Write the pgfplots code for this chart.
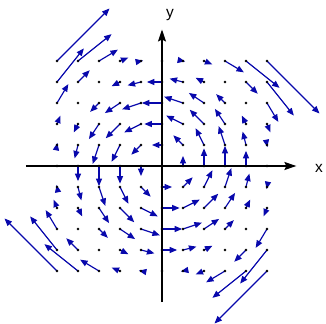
\documentclass[border=0pt]{standalone}
\usepackage{pgfplots}
\pgfplotsset{compat=1.18}
\usepackage{pgfplotstable}
\usetikzlibrary{arrows.meta}
\usepackage{fontspec}
\setmainfont{Liberation Sans}
\definecolor{fieldblue}{RGB}{8,8,172}

% vector field: grid point (x,y) and arrow (u,v)
\pgfplotstableread{
x y u v
-5 5 2.5 2.5
-4 5 1.6 1.28
-3 5 0.9 0.54
-2 5 0.4 0.16
-1 5 0.1 0.02
1 5 0.1 -0.02
2 5 0.4 -0.16
3 5 0.9 -0.54
4 5 1.6 -1.28
5 5 2.5 -2.5
-5 4 1.28 1.6
-4 4 0.56 0.56
-2 4 -0.4 -0.2
-1 4 -0.64 -0.16
0 4 -0.72 0
1 4 -0.64 0.16
2 4 -0.4 0.2
4 4 0.56 -0.56
5 4 1.28 -1.6
-5 3 0.54 0.9
-3 3 -0.42 -0.42
-2 3 -0.72 -0.48
-1 3 -0.9 -0.3
0 3 -0.96 0
1 3 -0.9 0.3
2 3 -0.72 0.48
3 3 -0.42 0.42
5 3 0.54 -0.9
-5 2 0.16 0.4
-4 2 -0.2 -0.4
-3 2 -0.48 -0.72
-2 2 -0.68 -0.68
-1 2 -0.8 -0.4
0 2 -0.84 0
1 2 -0.8 0.4
2 2 -0.68 0.68
3 2 -0.48 0.72
4 2 -0.2 0.4
5 2 0.16 -0.4
-5 1 0.02 0.1
-4 1 -0.16 -0.64
-3 1 -0.3 -0.9
-2 1 -0.4 -0.8
-1 1 -0.46 -0.46
0 1 -0.48 0
1 1 -0.46 0.46
2 1 -0.4 0.8
3 1 -0.3 0.9
4 1 -0.16 0.64
5 1 0.02 -0.1
-4 0 0 -0.72
-3 0 0 -0.96
-2 0 0 -0.84
-1 0 0 -0.48
1 0 0 0.48
2 0 0 0.84
3 0 0 0.96
4 0 0 0.72
-5 -1 -0.02 0.1
-4 -1 0.16 -0.64
-3 -1 0.3 -0.9
-2 -1 0.4 -0.8
-1 -1 0.46 -0.46
0 -1 0.48 0
1 -1 0.46 0.46
2 -1 0.4 0.8
3 -1 0.3 0.9
4 -1 0.16 0.64
5 -1 -0.02 -0.1
-5 -2 -0.16 0.4
-4 -2 0.2 -0.4
-3 -2 0.48 -0.72
-2 -2 0.68 -0.68
-1 -2 0.8 -0.4
0 -2 0.84 0
1 -2 0.8 0.4
2 -2 0.68 0.68
3 -2 0.48 0.72
4 -2 0.2 0.4
5 -2 -0.16 -0.4
-5 -3 -0.54 0.9
-3 -3 0.42 -0.42
-2 -3 0.72 -0.48
-1 -3 0.9 -0.3
0 -3 0.96 0
1 -3 0.9 0.3
2 -3 0.72 0.48
3 -3 0.42 0.42
5 -3 -0.54 -0.9
-5 -4 -1.28 1.6
-4 -4 -0.56 0.56
-2 -4 0.4 -0.2
-1 -4 0.64 -0.16
0 -4 0.72 0
1 -4 0.64 0.16
2 -4 0.4 0.2
4 -4 -0.56 -0.56
5 -4 -1.28 -1.6
-5 -5 -2.5 2.5
-4 -5 -1.6 1.28
-3 -5 -0.9 0.54
-2 -5 -0.4 0.16
-1 -5 -0.1 0.02
1 -5 -0.1 -0.02
2 -5 -0.4 -0.16
3 -5 -0.9 -0.54
4 -5 -1.6 -1.28
5 -5 -2.5 -2.5
}\fieldtable

% grid points where the field vanishes
\pgfplotstableread{
x y
0 0
0 5
0 -5
5 0
-5 0
3 4
-3 4
3 -4
-3 -4
4 3
-4 3
4 -3
-4 -3
}\zerotable

\begin{document}
\begin{tikzpicture}
\begin{axis}[
  anchor=origin,
  x=21bp, y=21bp,
  xmin=-6.48, xmax=6.4,
  ymin=-6.48, ymax=6.5,
  axis lines=middle,
  axis line style={black, line width=1.5bp, -{Stealth[length=12bp,width=8bp,inset=2bp]}},
  xtick=\empty, ytick=\empty,
  clip=false,
  xlabel={x}, ylabel={y},
  label style={font=\fontsize{15.5}{15.5}\selectfont},
  xlabel style={at={(axis cs:7.48,-0.29)}, anchor=base},
  ylabel style={at={(axis cs:0.38,7.05)}, anchor=base},
]
  \addplot[fieldblue, line width=1.2bp,
    quiver={u=\thisrow{u}, v=\thisrow{v}},
    -{Triangle[length=7.5bp,width=6bp]}]
    table[x=x, y=y] {\fieldtable};
  \addplot[only marks, mark=*, mark size=1.1bp, black] table[x=x, y=y] {\fieldtable};
  \addplot[only marks, mark=*, mark size=1.1bp, black] table[x=x, y=y] {\zerotable};
\end{axis}
\pgfresetboundingbox
\path[use as bounding box] (-162bp,-158bp) rectangle (164bp,166bp);
\end{tikzpicture}
\end{document}
